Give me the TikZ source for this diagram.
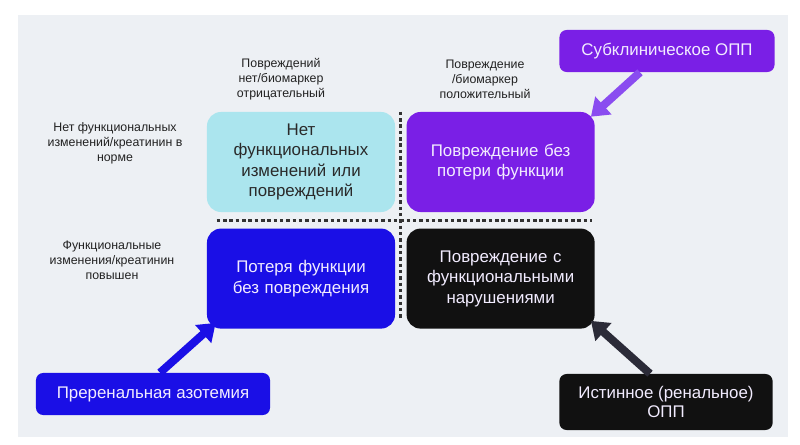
\documentclass[tikz,border=0pt]{standalone}
\usepackage{fontspec}
\setmainfont{Liberation Sans}
\usetikzlibrary{positioning, arrows.meta, calc}

\definecolor{bgpaper}{HTML}{EDF0F4}
\definecolor{cyanbox}{HTML}{ABE5EE}
\definecolor{violetbox}{HTML}{7A1FE6}
\definecolor{bluebox}{HTML}{1A0FE6}
\definecolor{blackbox}{HTML}{111111}
\definecolor{violetarrow}{HTML}{8A4CF0}
\definecolor{darkarrow}{HTML}{2B2B38}
\definecolor{lighttext}{HTML}{F2ECFF}
\definecolor{darktext}{HTML}{2A2A2A}
\definecolor{notetext}{HTML}{222222}
\definecolor{dotcolor}{HTML}{333333}

\tikzset{
  quad/.style={rounded corners=0.35cm, minimum width=4.7cm, minimum height=2.5cm, text width=4.3cm, align=center, font=\fontsize{12}{14.5}\selectfont},
  case/.style={rounded corners=0.18cm, align=center, text=lighttext, font=\fontsize{12}{14}\selectfont, inner sep=0pt},
  note/.style={align=center, text=notetext, font=\fontsize{8.8}{10.6}\selectfont},
  divider/.style={draw=dotcolor, line width=2pt, dash pattern=on 2.5pt off 2pt},
  push/.style={line width=0.2cm, -{Triangle[width=0.58cm,length=0.42cm]}},
}

\begin{document}
\begin{tikzpicture}[x=0.025cm, y=-0.025cm, node distance=0.4cm and 0.275cm]
\useasboundingbox (0,0) rectangle (800,445);
\fill[bgpaper] (18,15) rectangle (788,437);

% quadrants
\node[quad, fill=cyanbox, text=darktext] (none) at (301,162) {Нет\\функциональных\\изменений или\\повреждений};
\node[quad, fill=violetbox, text=lighttext, right=of none] (injury) {Повреждение без\\потери функции};
\node[quad, fill=bluebox, text=lighttext, below=of none] (loss) {Потеря функции\\без повреждения};
\node[quad, fill=blackbox, text=lighttext, below=of injury] (both) {Повреждение с\\функциональными\\нарушениями};

% axis notes
\node[note] (negnote) at (281,79) {Повреждений\\нет/биомаркер\\отрицательный};
\node[note] (posnote) at (485,79) {Повреждение\\/биомаркер\\положительный};
\node[note] (normnote) at (115,143) {Нет функциональных\\изменений/креатинин в\\норме};
\node[note] (highnote) at (112,260) {Функциональные\\изменения/креатинин\\повышен};

% dividers
\draw[divider] ($(none.south west)!.5!(loss.north west)+(10,0)$) -- ($(injury.south east)!.5!(both.north east)+(-3,0)$);
\draw[divider] ($(none.north east)!.5!(injury.north west)$) -- ($(loss.south east)!.5!(both.south west)+(0,-10)$);

% outer cases
\node[case, fill=violetbox, minimum width=5.375cm, minimum height=1.05cm] (subclin) at (667,51) {Субклиническое ОПП};
\node[case, fill=bluebox, minimum width=5.85cm, minimum height=1.05cm] (prerenal) at (153,394) {Преренальная азотемия};
\node[case, fill=blackbox, minimum width=5.33cm, minimum height=1.4cm] (renal) at (666,402) {Истинное (ренальное)\\ОПП};

\draw[push, violetarrow] ($(subclin.south)+(-27,0)$) -- ($(injury.north east)+(-4,5)$);
\draw[push, bluebox] ($(prerenal.north)+(7,0)$) -- ($(loss.south west)+(9,-6)$);
\draw[push, darkarrow] ($(renal.north)+(-16,0)$) -- ($(both.south east)+(-4,-8)$);
\end{tikzpicture}
\end{document}
